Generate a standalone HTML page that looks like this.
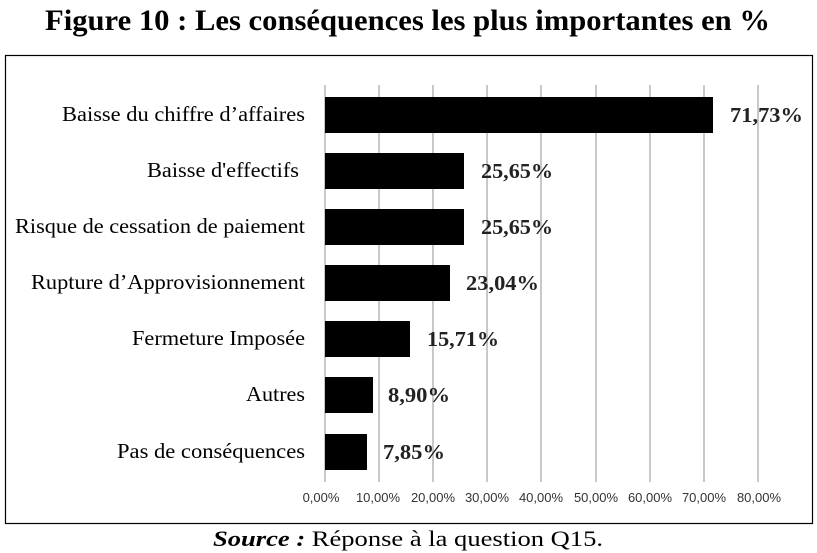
<!DOCTYPE html>
<html><head><meta charset="utf-8"><style>
body{margin:0;background:#fff;width:817px;height:553px;overflow:hidden}
svg{display:block}
</style></head><body>
<svg width="817" height="553" xmlns="http://www.w3.org/2000/svg">
<text x="45" y="30" textLength="725" lengthAdjust="spacingAndGlyphs" font-family="Liberation Serif, serif" font-weight="bold" font-size="30">Figure 10 : Les conséquences les plus importantes en %</text>
<rect x="5.5" y="55.5" width="807" height="468" fill="#fff" stroke="#000" stroke-width="1.2"/>
<g stroke="#c8c8c8" stroke-width="2">
<line x1="325" y1="85" x2="325" y2="482"/><line x1="379" y1="85" x2="379" y2="482"/><line x1="433" y1="85" x2="433" y2="482"/><line x1="487" y1="85" x2="487" y2="482"/><line x1="541" y1="85" x2="541" y2="482"/><line x1="596" y1="85" x2="596" y2="482"/><line x1="650" y1="85" x2="650" y2="482"/><line x1="704" y1="85" x2="704" y2="482"/><line x1="758" y1="85" x2="758" y2="482"/>
</g>
<g fill="#000">
<rect x="325" y="97" width="388" height="36"/>
<rect x="325" y="153" width="139" height="36"/>
<rect x="325" y="209" width="139" height="36"/>
<rect x="325" y="265" width="125" height="36"/>
<rect x="325" y="321" width="85" height="36"/>
<rect x="325" y="377" width="48" height="36"/>
<rect x="325" y="434" width="42" height="36"/>
</g>
<g font-family="Liberation Serif, serif" font-size="21">
<text x="62" y="121" textLength="243" lengthAdjust="spacingAndGlyphs">Baisse du chiffre d’affaires</text>
<text x="147" y="177" textLength="152" lengthAdjust="spacingAndGlyphs">Baisse d'effectifs</text>
<text x="15" y="233" textLength="290" lengthAdjust="spacingAndGlyphs">Risque de cessation de paiement</text>
<text x="31" y="289" textLength="274" lengthAdjust="spacingAndGlyphs">Rupture d’Approvisionnement</text>
<text x="132" y="345" textLength="173" lengthAdjust="spacingAndGlyphs">Fermeture Imposée</text>
<text x="246" y="401" textLength="59" lengthAdjust="spacingAndGlyphs">Autres</text>
<text x="117" y="458" textLength="188" lengthAdjust="spacingAndGlyphs">Pas de conséquences</text>
</g>
<g font-family="Liberation Serif, serif" font-size="21" font-weight="bold" fill="#222">
<text x="730" y="122" textLength="73" lengthAdjust="spacingAndGlyphs">71,73%</text>
<text x="481" y="178" textLength="72" lengthAdjust="spacingAndGlyphs">25,65%</text>
<text x="481" y="234" textLength="72" lengthAdjust="spacingAndGlyphs">25,65%</text>
<text x="466" y="290" textLength="73" lengthAdjust="spacingAndGlyphs">23,04%</text>
<text x="427" y="346" textLength="72" lengthAdjust="spacingAndGlyphs">15,71%</text>
<text x="388" y="402" textLength="62" lengthAdjust="spacingAndGlyphs">8,90%</text>
<text x="383" y="459" textLength="62" lengthAdjust="spacingAndGlyphs">7,85%</text>
</g>
<g font-family="Liberation Sans, sans-serif" font-size="13" fill="#333" text-anchor="middle">
<text x="321" y="502">0,00%</text><text x="378" y="502">10,00%</text><text x="433" y="502">20,00%</text><text x="487" y="502">30,00%</text><text x="541" y="502">40,00%</text><text x="596" y="502">50,00%</text><text x="650" y="502">60,00%</text><text x="704" y="502">70,00%</text><text x="759" y="502">80,00%</text>
</g>
<text x="213" y="546" textLength="390" lengthAdjust="spacingAndGlyphs" font-family="Liberation Serif, serif" font-size="22"><tspan font-weight="bold" font-style="italic">Source :</tspan> Réponse à la question Q15.</text>
</svg>
</body></html>
